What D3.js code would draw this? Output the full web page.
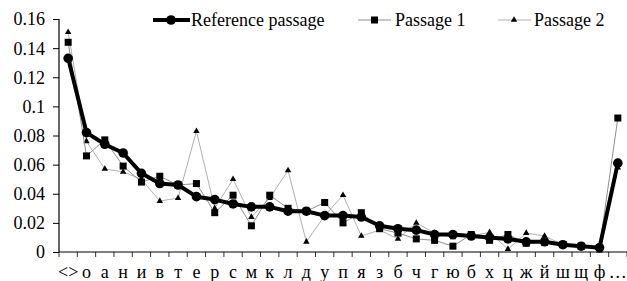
<!DOCTYPE html>
<html><head><meta charset="utf-8">
<script src="https://cdn.jsdelivr.net/npm/d3@7"></script>
<style>body{margin:0;background:#fff}svg{display:block}</style>
</head><body>
<svg id="c" width="627" height="281"></svg>
<script>
const categories = ["<>","о","а","н","и","в","т","е","р","с","м","к","л","д","у","п","я","з","б","ч","г","ю","б","х","ц","ж","й","ш","щ","ф","…"];
const refValues = [0.133,0.082,0.074,0.068,0.054,0.047,0.046,0.038,0.036,0.033,0.031,0.031,0.028,0.028,0.025,0.025,0.024,0.018,0.016,0.015,0.012,0.012,0.011,0.010,0.009,0.007,0.007,0.005,0.004,0.003,0.061];
const p1Values = [0.144,0.066,0.077,0.059,0.048,0.052,0.046,0.047,0.027,0.039,0.018,0.039,0.030,0.028,0.034,0.020,0.027,0.016,0.013,0.009,0.008,0.004,0.012,0.008,0.012,0.006,0.007,0.005,0.004,0.003,0.092];
const p2Values = [0.151,0.076,0.057,0.055,0.050,0.035,0.037,0.083,0.030,0.050,0.024,0.037,0.056,0.007,0.025,0.039,0.011,0.015,0.009,0.020,0.013,0.010,0.011,0.0135,0.002,0.013,0.011,0.005,0.004,0.001,0.058];
const yTicks = [0,0.02,0.04,0.06,0.08,0.1,0.12,0.14,0.16];
const yTickLabels = ["0","0.02","0.04","0.06","0.08","0.1","0.12","0.14","0.16"];
const seriesNames = ["Reference passage","Passage 1","Passage 2"];

const svg = d3.select("#c");
const FONT = '"Liberation Serif"';
const x = d3.scaleBand().domain(d3.range(categories.length)).range([59,627]).padding(0);
const y = d3.scaleLinear().domain([0,0.16]).range([252,19]);
const cx = i => x(i) + x.bandwidth()/2;

// y axis
const yAxis = d3.axisLeft(y).tickValues(yTicks).tickSize(6).tickFormat((d,i)=>yTickLabels[i]);
const ga = svg.append("g").attr("transform","translate(59,0)").call(yAxis);
ga.select(".domain").attr("d","M0,19V252").attr("stroke","#000").attr("stroke-width",1.2);
ga.selectAll(".tick line").attr("stroke","#000");
ga.selectAll(".tick text").style("font-family",FONT).style("font-size","18px").attr("fill","#000").attr("x",-14).attr("dy","0.33em");

// x axis
const xAxis = d3.axisBottom(x).tickSize(0).tickFormat(i=>categories[i]);
const gx = svg.append("g").attr("transform","translate(0,252)").call(xAxis);
gx.select(".domain").attr("d","M59,0H627").attr("stroke","#000").attr("stroke-width",1.2);
gx.selectAll(".tick text").style("font-family",FONT).style("font-size","18px").attr("fill","#000").attr("y",26).attr("dy","0");
svg.append("g").selectAll("line").data(d3.range(categories.length+1)).join("line")
  .attr("x1",i=>59+i*x.bandwidth()).attr("x2",i=>59+i*x.bandwidth())
  .attr("y1",252).attr("y2",257).attr("stroke","#000").attr("stroke-width",0.8);

const line = d3.line().x((d,i)=>cx(i)).y(d=>y(d));

// Passage 2
svg.append("path").datum(p2Values).attr("d",line).attr("fill","none").attr("stroke","#b0b0b0").attr("stroke-width",1);
svg.append("g").selectAll("path").data(p2Values).join("path")
  .attr("d",d3.symbol().type(d3.symbolTriangle).size(18))
  .attr("transform",(d,i)=>`translate(${cx(i)},${y(d)})`).attr("fill","#000");
// Passage 1
svg.append("path").datum(p1Values).attr("d",line).attr("fill","none").attr("stroke","#909090").attr("stroke-width",1);
svg.append("g").selectAll("rect").data(p1Values).join("rect")
  .attr("x",(d,i)=>cx(i)-3.5).attr("y",d=>y(d)-3.5).attr("width",7).attr("height",7).attr("fill","#000");
// Reference
svg.append("path").datum(refValues).attr("d",line).attr("fill","none").attr("stroke","#000").attr("stroke-width",4).attr("stroke-linejoin","round");
svg.append("g").selectAll("circle").data(refValues).join("circle")
  .attr("cx",(d,i)=>cx(i)).attr("cy",d=>y(d)).attr("r",4.8).attr("fill","#000");

// Legend
const lg = svg.append("g");
lg.append("line").attr("x1",153).attr("x2",190).attr("y1",20).attr("y2",20).attr("stroke","#000").attr("stroke-width",4);
lg.append("circle").attr("cx",171).attr("cy",20).attr("r",4.8).attr("fill","#000");
lg.append("text").attr("x",191).attr("y",26).text(seriesNames[0]);
lg.append("line").attr("x1",358).attr("x2",391).attr("y1",20).attr("y2",20).attr("stroke","#909090").attr("stroke-width",1);
lg.append("rect").attr("x",371).attr("y",16.5).attr("width",7).attr("height",7).attr("fill","#000");
lg.append("text").attr("x",395).attr("y",26).text(seriesNames[1]);
lg.append("line").attr("x1",498).attr("x2",531).attr("y1",20).attr("y2",20).attr("stroke","#b0b0b0").attr("stroke-width",1);
lg.append("path").attr("d",d3.symbol().type(d3.symbolTriangle).size(18)).attr("transform","translate(514,20)").attr("fill","#000");
lg.append("text").attr("x",534).attr("y",26).text(seriesNames[2]);
lg.selectAll("text").style("font-family",FONT).style("font-size","18px").attr("fill","#000");
</script>
</body></html>
